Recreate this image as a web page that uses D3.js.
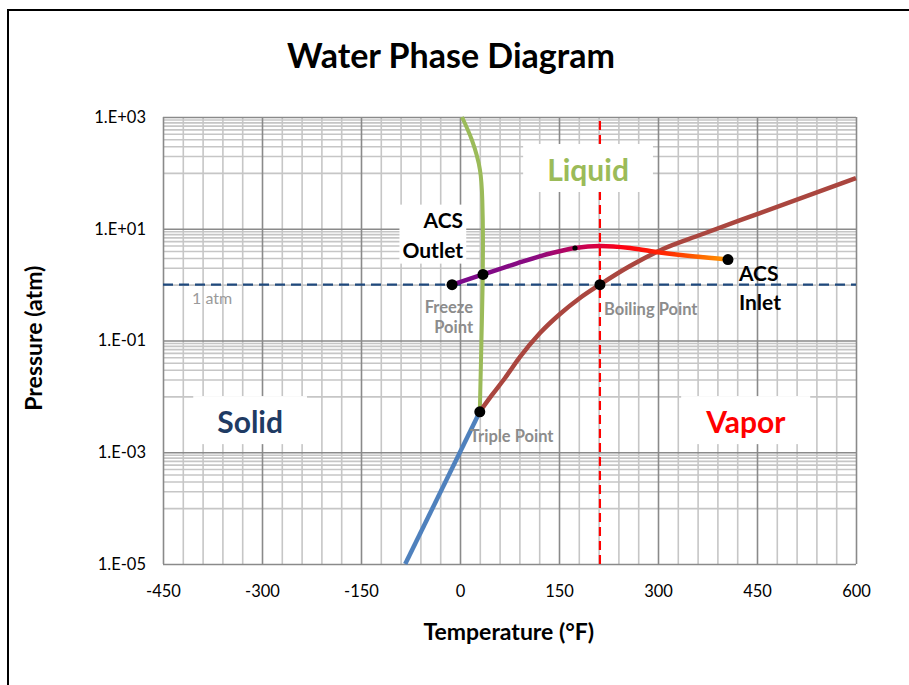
<!DOCTYPE html>
<html>
<head>
<meta charset="utf-8">
<script src="https://cdn.jsdelivr.net/npm/d3@7"></script>
<style>
  body { margin: 0; background: #fff; }
  svg { display: block; font-family: Lato, 'Open Sans', sans-serif; }
</style>
</head>
<body>
<script>
// axis ticks
const xTicks = [-450, -300, -150, 0, 150, 300, 450, 600];
const yTicks = [1e-5, 1e-3, 1e-1, 1e1, 1e3];
const yTickLabels = ['1.E-05', '1.E-03', '1.E-01', '1.E+01', '1.E+03'];

// solid / liquid boundary
const meltT = [30, 32.5, 34.3, 34.8, 33.8, 30.3, 18, 3];
const meltP = [0.0053, 0.1, 1, 6.3, 33, 112, 387, 1000];

// solid / vapor boundary
const sublT = [-83, 30];
const sublP = [1e-5, 0.0053];

// liquid / vapor boundary
const vapT = [30, 48.5, 68.2, 90.9, 121.2, 151.5, 181.8, 212, 257.6, 307.6, 363.6, 454.5, 600];
const vapP = [0.0053, 0.0106, 0.0213, 0.0507, 0.136, 0.298, 0.577, 1, 2.15, 4.34, 7.73, 19.1, 80.9];

// ACS loop (outlet -> inlet)
const acsT = [-12, 34.8, 86.4, 136.4, 174.2, 212, 257.6, 303, 356, 406];
const acsP = [1.0, 1.52, 2.4, 3.6, 4.52, 4.91, 4.52, 3.76, 3.18, 2.81];

// marked points
const ptNames = ['freeze', 'acs2', 'kink', 'inlet', 'boil', 'triple'];
const ptT = [-12, 34.8, 174.2, 406, 212, 30];
const ptP = [1.0, 1.52, 4.52, 2.81, 1, 0.0053];

const boilT = 212;
const oneAtm = 1;

// region labels
const phaseNames = ['Liquid', 'Solid', 'Vapor'];
const phaseT = [194, -318, 433];
const phaseP = [71.6, 0.0022, 0.0022];

const width = 909, height = 685;
const margin = {top: 117, right: 53, bottom: 121, left: 163};

const svg = d3.select('body').append('svg')
  .attr('width', width)
  .attr('height', height);

svg.append('rect').attr('width', width).attr('height', height).attr('fill', '#fff');
// chart frame (cropped)
svg.append('rect')
  .attr('x', 8).attr('y', 10)
  .attr('width', 1000).attr('height', 1000)
  .attr('fill', 'none').attr('stroke', '#000').attr('stroke-width', 2);

const x = d3.scaleLinear().domain([-450, 600]).range([margin.left, width - margin.right]);
const y = d3.scaleLog().domain([1e-5, 1e3]).range([height - margin.bottom, margin.top]);

// minor grid
const xMinor = d3.range(-450, 601, 30).filter(d => d % 150 !== 0);
const yMinor = [];
[-4, -2, 0, 2].forEach(e => d3.range(1, 10).forEach(k => yMinor.push(k * Math.pow(10, e))));

const plotW = width - margin.left - margin.right;
const plotH = height - margin.top - margin.bottom;

function gridLines(axis, vals, color) {
  const vertical = axis === 'x';
  const g = svg.append('g')
    .attr('transform', vertical ? `translate(0,${height - margin.bottom})` : `translate(${margin.left},0)`)
    .call(vertical
      ? d3.axisBottom(x).tickValues(vals).tickSize(-plotH).tickFormat('')
      : d3.axisLeft(y).tickValues(vals).tickSize(-plotW).tickFormat(''));
  g.select('.domain').remove();
  g.selectAll('line').attr('stroke', color).attr('stroke-width', 1.6);
}
gridLines('x', xMinor, '#c6c6c6');
gridLines('y', yMinor, '#c6c6c6');
gridLines('x', xTicks, '#8a8a8a');
gridLines('y', yTicks, '#8a8a8a');

// tick labels
const xAxis = svg.append('g')
  .attr('transform', `translate(0,${height - margin.bottom})`)
  .call(d3.axisBottom(x).tickValues(xTicks).tickSize(0).tickPadding(21).tickFormat(d => String(d)));
xAxis.select('.domain').remove();
xAxis.selectAll('text').attr('font-size', 16.5).attr('font-family', 'Lato').attr('fill', '#000');

const yAxis = svg.append('g')
  .attr('transform', `translate(${margin.left},0)`)
  .call(d3.axisLeft(y).tickValues(yTicks).tickSize(0).tickPadding(17)
    .tickFormat((d, i) => yTickLabels[i]));
yAxis.select('.domain').remove();
yAxis.selectAll('text').attr('font-size', 16.5).attr('font-family', 'Lato').attr('fill', '#000');

// reference lines
svg.append('line')
  .attr('x1', x(-450)).attr('x2', x(600))
  .attr('y1', y(oneAtm)).attr('y2', y(oneAtm))
  .attr('stroke', '#1f497d').attr('stroke-width', 2.2).attr('stroke-dasharray', '10,6');
svg.append('line')
  .attr('x1', x(boilT)).attr('x2', x(boilT))
  .attr('y1', y(1e-5)).attr('y2', y(1e3))
  .attr('stroke', '#ff0000').attr('stroke-width', 2.2).attr('stroke-dasharray', '9,5');

// phase labels with white boxes
const phaseColor = {Liquid: '#9bbb59', Solid: '#1f3b63', Vapor: '#ff0000'};
phaseNames.forEach((name, i) => {
  const g = svg.append('g');
  const t = g.append('text')
    .attr('x', x(phaseT[i])).attr('y', y(phaseP[i]))
    .attr('text-anchor', 'middle')
    .attr('font-size', 30).attr('font-weight', 'bold')
    .attr('fill', phaseColor[name])
    .text(name);
  const bb = t.node().getBBox();
  g.insert('rect', 'text')
    .attr('x', bb.x - 24).attr('y', bb.y - 7)
    .attr('width', bb.width + 48).attr('height', bb.height + 12)
    .attr('fill', '#fff');
});

// boundary curves
const line = d3.line().x(d => x(d[0])).y(d => y(d[1]));

svg.append('path')
  .datum(d3.zip(sublT, sublP))
  .attr('d', line)
  .attr('fill', 'none').attr('stroke', '#4f81bd').attr('stroke-width', 4.5);

svg.append('path')
  .datum(d3.zip(meltT, meltP))
  .attr('d', line.curve(d3.curveMonotoneY))
  .attr('fill', 'none').attr('stroke', '#9bbb59').attr('stroke-width', 4);

svg.append('path')
  .datum(d3.zip(vapT, vapP))
  .attr('d', line.curve(d3.curveMonotoneX))
  .attr('fill', 'none').attr('stroke', '#aa463f').attr('stroke-width', 4.5);

// ACS path, gradient purple -> red -> orange
const grad = svg.append('defs').append('linearGradient')
  .attr('id', 'acsGrad')
  .attr('gradientUnits', 'userSpaceOnUse')
  .attr('x1', x(acsT[0])).attr('x2', x(acsT[acsT.length - 1]))
  .attr('y1', 0).attr('y2', 0);
[[0, '#7a0a8c'], [0.3, '#8a0a80'], [0.5, '#d0004a'], [0.62, '#ff0010'], [0.78, '#ff2a00'], [1, '#ff9a00']]
  .forEach(s => grad.append('stop').attr('offset', s[0]).attr('stop-color', s[1]));

svg.append('path')
  .datum(d3.zip(acsT, acsP))
  .attr('d', line.curve(d3.curveMonotoneX))
  .attr('fill', 'none').attr('stroke', 'url(#acsGrad)').attr('stroke-width', 4.5);

// markers
svg.append('g').selectAll('circle')
  .data(d3.zip(ptNames, ptT, ptP))
  .join('circle')
  .attr('cx', d => x(d[1]))
  .attr('cy', d => y(d[2]))
  .attr('r', d => d[0] === 'kink' ? 2.6 : 5.5)
  .attr('fill', '#000');

// annotations
function note(lines, tx, ty, anchor, dx, dy, opts) {
  const t = svg.append('text')
    .attr('x', x(tx) + dx).attr('y', y(ty) + dy)
    .attr('text-anchor', anchor)
    .attr('font-size', opts.size).attr('font-weight', opts.weight)
    .attr('fill', opts.color);
  lines.forEach((s, i) => t.append('tspan')
    .attr('x', x(tx) + dx).attr('dy', i === 0 ? 0 : opts.lh).text(s));
  return t;
}
const gray = {size: 16.5, weight: 'bold', color: '#8c8c8c', lh: 20};
note(['1 atm'], -450, oneAtm, 'start', 29, 19, {size: 16, weight: 'normal', color: '#9a9a9a', lh: 0});
note(['Freeze', 'Point'], -12, oneAtm, 'end', 21, 28, gray);
note(['Boiling Point'], boilT, oneAtm, 'start', 4, 30, gray);
note(['Triple Point'], 30, 0.0053, 'start', -10, 30, gray);

// ACS labels
const acsOut = note(['ACS', 'Outlet'], -12, oneAtm, 'end', 11, -57, {size: 21, weight: 'bold', color: '#000', lh: 30});
const ob = acsOut.node().getBBox();
svg.insert('rect', () => acsOut.node())
  .attr('x', ob.x - 3).attr('y', ob.y - 2).attr('width', ob.width + 6).attr('height', ob.height + 4)
  .attr('fill', '#fff');
note(['ACS', 'Inlet'], 406, 2.81, 'start', 11, 21, {size: 21, weight: 'bold', color: '#000', lh: 29});

// titles
svg.append('text')
  .attr('x', 451).attr('y', 68)
  .attr('text-anchor', 'middle')
  .attr('font-size', 34).attr('font-weight', 'bold')
  .text('Water Phase Diagram');

svg.append('text')
  .attr('x', x(74)).attr('y', 640)
  .attr('text-anchor', 'middle')
  .attr('font-size', 23).attr('font-weight', 'bold')
  .text('Temperature (°F)');

svg.append('text')
  .attr('transform', `translate(42,${y(0.11)}) rotate(-90)`)
  .attr('text-anchor', 'middle')
  .attr('font-size', 23).attr('font-weight', 'bold')
  .text('Pressure (atm)');
</script>
</body>
</html>
